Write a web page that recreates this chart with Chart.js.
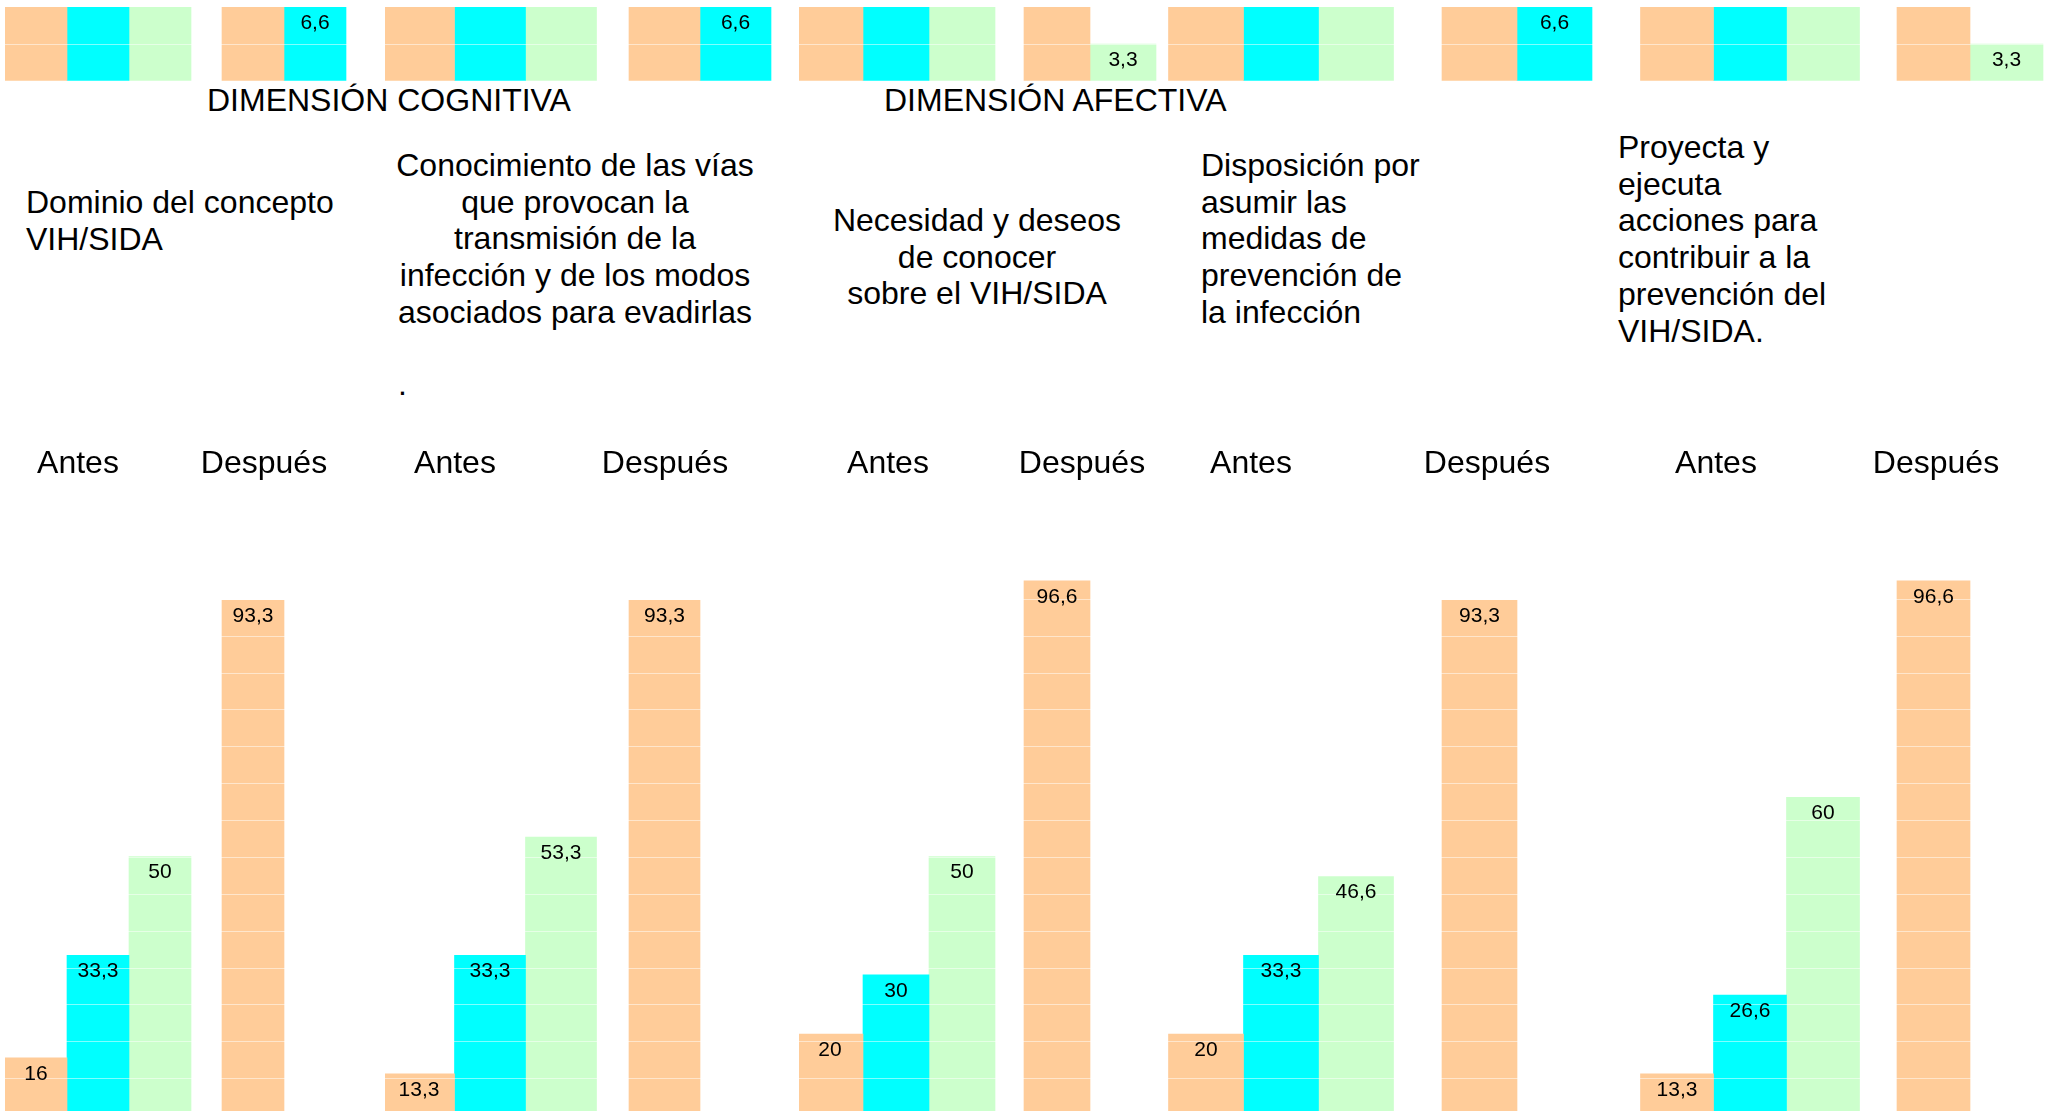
<!DOCTYPE html>
<html lang="es">
<head>
<meta charset="utf-8">
<title>Dimensión cognitiva y afectiva: antes y después</title>
<script src="https://cdn.jsdelivr.net/npm/chart.js@4.4.1/dist/chart.umd.min.js"></script>
<style>
  html, body { margin: 0; padding: 0; background: #fff; overflow: hidden; }
  body { width: 2049px; height: 1111px; position: relative;
         font-family: "Liberation Sans", Arial, sans-serif; color: #000; }
  .rotulo { position: absolute; font-size: 32px; line-height: 36.7px; white-space: pre; }
  .centrado { text-align: center; width: 600px; }
  canvas { position: absolute; }
</style>
</head>
<body>
<script>
// ---- Datos ----
const momentos = ['Antes', 'Después'];
const dimensiones = ['DIMENSIÓN COGNITIVA', 'DIMENSIÓN AFECTIVA'];
const indicadores = [
  'Dominio del concepto\nVIH/SIDA',
  'Conocimiento de las vías\nque provocan la\ntransmisión de la\ninfección y de los modos\nasociados para evadirlas',
  'Necesidad y deseos\nde conocer\nsobre el VIH/SIDA',
  'Disposición por\nasumir las\nmedidas de\nprevención de\nla infección',
  'Proyecta y\nejecuta\nacciones para\ncontribuir a la\nprevención del\nVIH/SIDA.'
];
// Porcentajes: para cada indicador, el par [Antes, Después]
const nivelAlto  = [16, 93.3, 13.3, 93.3, 20, 96.6, 20, 93.3, 13.3, 96.6];
const nivelMedio = [33.3, 6.6, 33.3, 6.6, 30, null, 33.3, 6.6, 26.6, null];
const nivelBajo  = [50, null, 53.3, null, 50, 3.3, 46.6, null, 60, 3.3];

// ---- Presentación ----
const colores = ['#FFCC99', '#00FFFF', '#CCFFCC'];
const fuente = '"Liberation Sans", Arial, sans-serif';

// Un panel por indicador (posición horizontal, grosor de barra, ajuste de rótulos)
const paneles = [
  { left: 5,    width: 372, barra: 62, desplaz: -20 },
  { left: 385,  width: 420, barra: 71, desplaz: -35 },
  { left: 799,  width: 388, barra: 66, desplaz: -8 },
  { left: 1163, width: 472, barra: 75, desplaz: -30 },
  { left: 1640, width: 440, barra: 73, desplaz: -34 }
];

// Tramo inferior de la escala (0 a 6,6) en la franja superior,
// tramo principal (7 a 110) en la parte baja
const tramos = {
  franja:    { top: 7,   height: 74,  min: 0, max: 6.6, paso: 3.3,  ejeX: false },
  principal: { top: 427, height: 684, min: 7, max: 110, paso: 6.23, ejeX: true }
};

const rotulos = [
  { texto: dimensiones[0], x: 207,  y: 82 },
  { texto: dimensiones[1], x: 884,  y: 82 },
  { texto: indicadores[0], x: 26,   y: 184 },
  { texto: indicadores[1], x: 575,  y: 147, centrado: true },
  { texto: '.',            x: 398,  y: 366 },
  { texto: indicadores[2], x: 977,  y: 202, centrado: true },
  { texto: indicadores[3], x: 1201, y: 147 },
  { texto: indicadores[4], x: 1618, y: 129 }
];

rotulos.forEach(r => {
  const div = document.createElement('div');
  div.className = 'rotulo' + (r.centrado ? ' centrado' : '');
  div.textContent = r.texto;
  div.style.left = (r.centrado ? r.x - 300 : r.x) + 'px';
  div.style.top = r.y + 'px';
  document.body.appendChild(div);
});

// Valores escritos dentro del extremo superior de cada barra visible
const valoresEnBarras = {
  id: 'valoresEnBarras',
  afterDraw(chart) {
    const ctx = chart.ctx;
    const y = chart.scales.y;
    ctx.save();
    ctx.font = '21px ' + fuente;
    ctx.fillStyle = '#000';
    ctx.textAlign = 'center';
    ctx.textBaseline = 'middle';
    chart.data.datasets.forEach((ds, d) => {
      chart.getDatasetMeta(d).data.forEach((barra, k) => {
        const v = ds.data[k];
        if (v === null || v <= y.min || v > y.max) return;
        ctx.fillText(String(v).replace('.', ','), barra.x, barra.y + 16);
      });
    });
    ctx.restore();
  }
};

function crearGrafico(panel, i, tramo) {
  const lienzo = document.createElement('canvas');
  lienzo.width = panel.width;
  lienzo.height = tramo.height;
  lienzo.style.left = panel.left + 'px';
  lienzo.style.top = tramo.top + 'px';
  document.body.appendChild(lienzo);

  const desde = 2 * i, hasta = 2 * i + 2;
  const series = [nivelAlto, nivelMedio, nivelBajo];
  const nombres = ['Alto', 'Medio', 'Bajo'];

  new Chart(lienzo, {
    type: 'bar',
    data: {
      labels: momentos,
      datasets: series.map((s, d) => ({
        label: nombres[d],
        data: s.slice(desde, hasta),
        backgroundColor: colores[d],
        borderWidth: 0,
        barThickness: panel.barra,
        skipNull: true,
        clip: 0
      }))
    },
    options: {
      responsive: false,
      animation: false,
      events: [],
      layout: { padding: 0 },
      plugins: { legend: { display: false }, tooltip: { enabled: false } },
      scales: {
        x: {
          display: tramo.ejeX,
          position: 'top',
          offset: true,
          grid: { display: false, drawTicks: false },
          border: { display: false },
          ticks: {
            color: '#000',
            font: { family: fuente, size: 32 },
            padding: 18,
            labelOffset: panel.desplaz,
            maxRotation: 0,
            autoSkip: false
          }
        },
        y: {
          display: true,
          min: tramo.min,
          max: tramo.max,
          z: 1,
          ticks: { display: false, stepSize: tramo.paso },
          border: { display: false },
          grid: {
            z: 1,
            drawTicks: false,
            lineWidth: 1,
            color: (c) => (c.tick && c.tick.value > tramo.min + 1e-6 && c.tick.value < tramo.max - 1e-6)
              ? 'rgba(255,255,255,0.5)' : 'rgba(255,255,255,0)'
          }
        }
      }
    },
    plugins: [valoresEnBarras]
  });
}

paneles.forEach((p, i) => {
  crearGrafico(p, i, tramos.franja);
  crearGrafico(p, i, tramos.principal);
});
</script>
</body>
</html>
